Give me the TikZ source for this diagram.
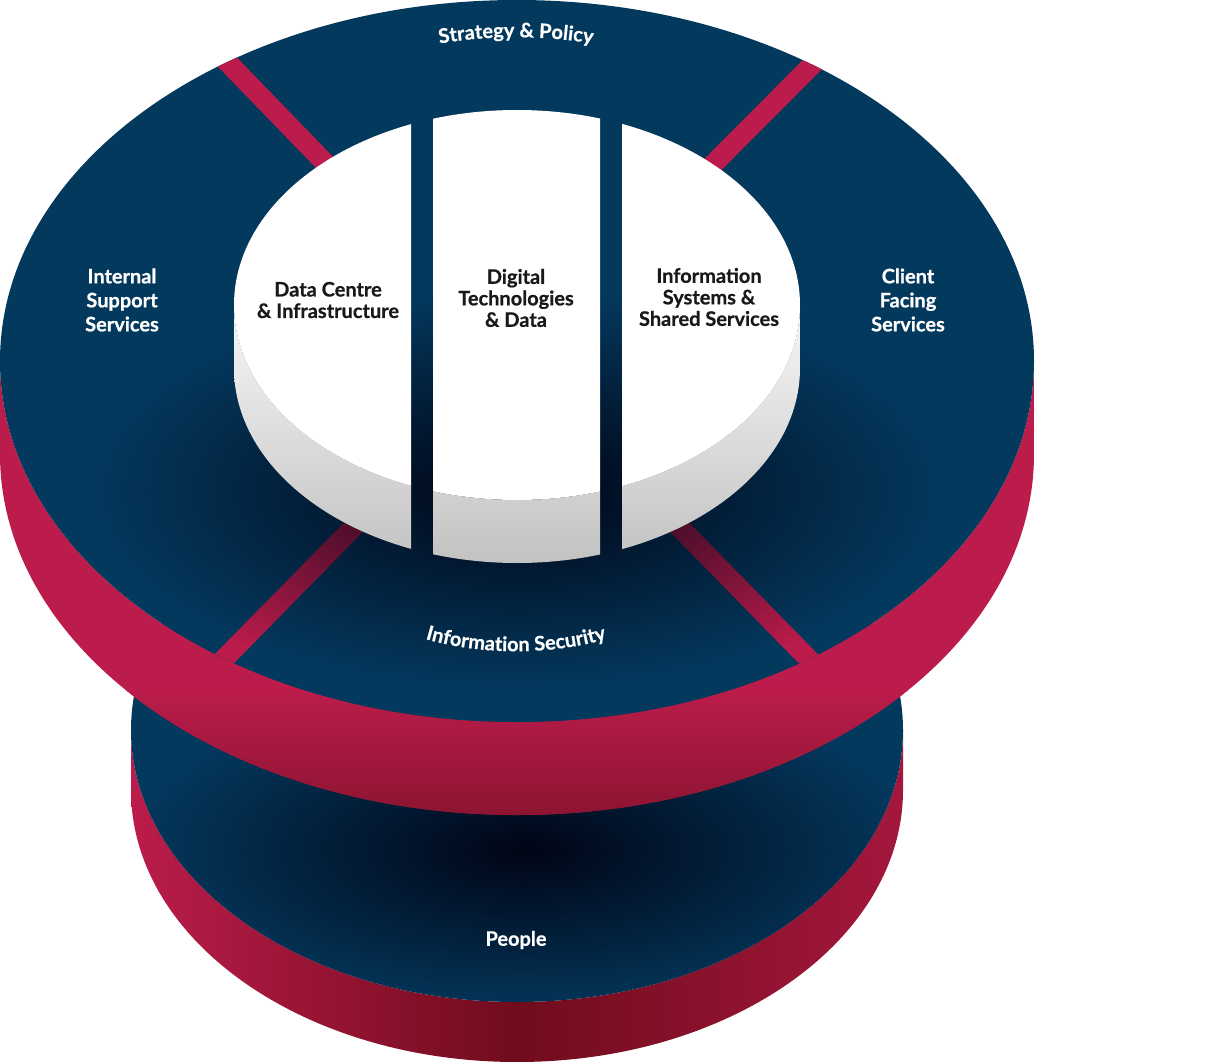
\documentclass[tikz,border=0pt]{standalone}
\usepackage{fontspec}
\setmainfont{Lato}[BoldFeatures={FakeBold=0.6}]
\usetikzlibrary{calc,fadings,decorations.text}

\definecolor{navyc}{RGB}{4,57,94}
\definecolor{crimc}{RGB}{187,28,75}
\definecolor{deepc}{RGB}{140,20,48}
\definecolor{maroonc}{RGB}{112,12,28}
\definecolor{shadowc}{RGB}{1,5,22}
\definecolor{sidegray}{RGB}{194,194,194}

\tikzfading[name=blobfade, inner color=transparent!0, outer color=transparent!100]

\begin{document}
\begin{tikzpicture}[x=1pt, y=1pt,
    ringlabel/.style={font=\bfseries\fontsize{20}{24}\selectfont, text=white, align=center},
    pilllabel/.style={font=\bfseries\fontsize{20}{21.5}\selectfont, text=black!90, align=center},
    band/.style={draw=crimc, line width=20pt},
    blob/.style={fill=shadowc, path fading=blobfade},
    curved/.style={decorate, decoration={text along path, text align=center,
        text color=white, text={|\bfseries\fontsize{20}{22}\selectfont|#1}}}
]
\useasboundingbox[fill=white] (0,0) rectangle (1205,-1062);

% lower disc: People
\shade[left color=crimc, right color=crimc!70!maroonc, middle color=maroonc]
  (131,-730) -- (131,-790) arc[start angle=180, end angle=360, x radius=386pt, y radius=272pt]
  -- (903,-730) arc[start angle=0, end angle=-180, x radius=386pt, y radius=272pt] -- cycle;
\fill[navyc] (517,-730) ellipse[x radius=386pt, y radius=272pt];
\begin{scope}
  \clip (517,-730) ellipse[x radius=386pt, y radius=272pt];
  \fill[blob] (525,-850) ellipse[x radius=400pt, y radius=170pt];
\end{scope}
\node[ringlabel] (people) at (516,-940) {People};

% upper disc, side
\begin{scope}
  \clip (0,-361) -- (0,-454) arc[start angle=180, end angle=360, x radius=517pt, y radius=361pt]
    -- (1034,-361) arc[start angle=0, end angle=-180, x radius=517pt, y radius=361pt] -- cycle;
  \fill[crimc] (0,-300) rectangle (1034,-820);
  \shade[top color=crimc, bottom color=deepc] (0,-690) rectangle (1034,-816);
\end{scope}

% upper disc, top face with the four dividers
\fill[navyc] (517,-361) ellipse[x radius=517pt, y radius=361pt];
\coordinate (hub) at (517,-361);
\begin{scope}
  \clip (517,-361) ellipse[x radius=517pt, y radius=361pt];
  \draw[band] ($(hub)+0.5*(-347,358)$) -- ++(-243,251);
  \draw[band] ($(hub)+0.5*(349,350)$) -- ++(244,245);
  \draw[band] ($(hub)+0.4*(-354,-360)$) -- ++(-283,-288);
  \draw[band] ($(hub)+0.4*(352,-360)$) -- ++(282,-288);
  \fill[blob] (517,-490) ellipse[x radius=430pt, y radius=200pt];
\end{scope}

\node[ringlabel] (internal) at (122,-300) {Internal\\Support\\Services};
\node[ringlabel] (client) at (908,-300) {Client\\Facing\\Services};
\path[curved={Strategy {\&} Policy}] (410,-50) .. controls (474,-33) and (558,-33) .. (622,-50);
\path[curved={Information Security}] (410,-634) .. controls (474,-657) and (558,-657) .. (622,-634);

% white core, cut in three
\foreach \xa/\xb in {234/411, 433/600, 622/801} {
  \begin{scope}
    \clip (\xa,-100) rectangle (\xb,-570);
    \shade[top color=gray!6, bottom color=sidegray]
      (234,-305) -- (234,-368) arc[start angle=180, end angle=360, x radius=283pt, y radius=195pt]
      -- (800,-305) arc[start angle=0, end angle=-180, x radius=283pt, y radius=195pt] -- cycle;
    \fill[white] (517,-305) ellipse[x radius=283pt, y radius=195pt];
  \end{scope}
}

\node[pilllabel] (datacentre) at (328,-300) {Data Centre\\\& Infrastructure};
\node[pilllabel] (digital) at (516,-298) {Digital\\Technologies\\\& Data};
\node[pilllabel] (infosys) at (709,-297) {Information\\Systems \&\\Shared Services};

\end{tikzpicture}
\end{document}
